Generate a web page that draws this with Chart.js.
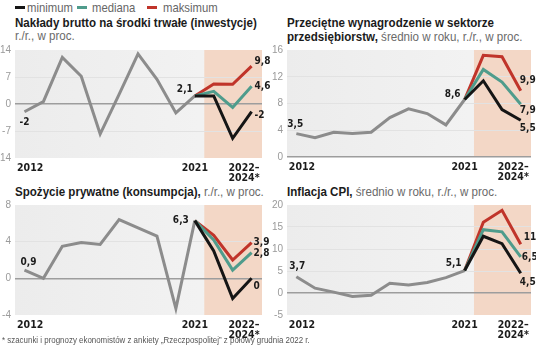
<!DOCTYPE html>
<html>
<head>
<meta charset="utf-8">
<script src="https://cdn.jsdelivr.net/npm/chart.js@4"></script>
<style>
  body { margin: 0; background: #fff; }
  #wrap { position: relative; width: 536px; height: 347px; overflow: hidden; font-family: "Liberation Sans", Arial, sans-serif; }
  .box { position: absolute; }
  .cond { transform: scaleX(0.89); transform-origin: 0 0; }
  .ttl { position: absolute; font-weight: bold; font-size: 13px; line-height: 14px; color: #1b1b1b; white-space: nowrap; }
  .ttl span, .sub { font-weight: normal; color: #6a6a6a; }
  .sub { position: absolute; font-size: 13px; line-height: 14px; white-space: nowrap; }
  .lg { position: absolute; top: 1px; font-size: 13px; line-height: 13px; color: #666; white-space: nowrap; transform: scaleX(0.87); transform-origin: 0 0; }
  .mk { position: absolute; top: 6px; width: 10px; height: 3px; }
  #note { position: absolute; left: 2px; top: 335px; font-size: 9px; color: #555; white-space: nowrap; transform: scaleX(0.88); transform-origin: 0 0; }
</style>
</head>
<body>
<div id="wrap">
  <div class="mk" style="left:15px;background:#151515"></div>
  <div class="lg" style="left:27px">minimum</div>
  <div class="mk" style="left:77px;background:#4f9c8c"></div>
  <div class="lg" style="left:92px">mediana</div>
  <div class="mk" style="left:147px;background:#c0342a"></div>
  <div class="lg" style="left:163px">maksimum</div>

  <div class="ttl cond" style="left:15px;top:16px">Nakłady brutto na środki trwałe (inwestycje)</div>
  <div class="sub cond" style="left:15px;top:29px">r./r., w proc.</div>
  <div class="ttl cond" style="left:287px;top:16px">Przeciętne wynagrodzenie w sektorze<br>przedsiębiorstw,<span> średnio w roku, r./r., w proc.</span></div>
  <div class="ttl cond" style="left:15px;top:185px">Spożycie prywatne (konsumpcja),<span> r./r., w proc.</span></div>
  <div class="ttl cond" style="left:287px;top:185px">Inflacja CPI,<span> średnio w roku, r./r., w proc.</span></div>

  <div class="box" style="left:0;top:40px"><canvas id="c1" width="274" height="145"></canvas></div>
  <div class="box" style="left:270px;top:40px"><canvas id="c2" width="266" height="145"></canvas></div>
  <div class="box" style="left:0;top:195px"><canvas id="c3" width="274" height="145"></canvas></div>
  <div class="box" style="left:270px;top:195px"><canvas id="c4" width="266" height="145"></canvas></div>

  <div id="note">* szacunki i prognozy ekonomistów z ankiety „Rzeczpospolitej” z połowy grudnia 2022 r.</div>
</div>

<script>
// lata 2012-2021 + prognozy 2022-2024
const years = ['2012','2013','2014','2015','2016','2017','2018','2019','2020','2021','2022','2023','2024'];
const xTickLabels = ['2012', '2021', ['2022–', '2024*']];

// inwestycje
const invHist = [-2, 0.6, 12.1, 7.2, -7.8, 2.5, 13, 6.4, -2.3, 2.1];
const invMin = [2.1, 2.1, -8.9, -2];
const invMed = [2.1, 3.3, -0.9, 4.6];
const invMax = [2.1, 5.2, 5.1, 9.8];
const invYTicks = [-14, -7, 0, 7, 14];
const invLabels = ['-2', '2,1', '-2', '4,6', '9,8'];

// wynagrodzenia
const wageHist = [3.5, 2.9, 3.7, 3.5, 3.7, 5.9, 7.2, 6.5, 4.8, 8.6];
const wageMin = [8.6, 11.4, 7.1, 5.5];
const wageMed = [8.6, 13.1, 11.2, 7.9];
const wageMax = [8.6, 15.2, 15.0, 9.9];
const wageYTicks = [0, 4, 8, 12, 16];
const wageLabels = ['3,5', '8,6', '5,5', '7,9', '9,9'];

// konsumpcja
const consHist = [0.9, 0, 3.5, 3.9, 3.7, 6.4, 5.5, 4.6, -3.3, 6.3];
const consMin = [6.3, 3.0, -2.2, 0];
const consMed = [6.3, 4.2, 0.9, 2.8];
const consMax = [6.3, 4.7, 2.0, 3.9];
const consYTicks = [-4, 0, 4, 8];
const consLabels = ['0,9', '6,3', '0', '2,8', '3,9'];

// inflacja CPI
const cpiHist = [3.7, 1.1, 0.2, -0.8, -0.5, 2.2, 1.8, 2.4, 3.5, 5.1];
const cpiMin = [5.1, 12.9, 11.2, 4.5];
const cpiMed = [5.1, 14.4, 13.9, 8.2];
const cpiMax = [5.1, 16.1, 18.8, 11.1];
const cpiYTicks = [-5, 0, 5, 10, 15, 20];
const cpiLabels = ['3,7', '5,1', '4,5', '6,5', '11'];

const LABEL_FONT = 'bold 10px "DejaVu Sans Condensed", "DejaVu Sans", sans-serif';

// tlo wykresu + pole prognozy
const bgPlugin = {
  id: 'bg',
  beforeDraw(chart) {
    const { ctx, chartArea: a, scales: { x } } = chart;
    ctx.save();
    const g = ctx.createLinearGradient(a.left, 0, a.right, 0);
    g.addColorStop(0, '#ececec');
    g.addColorStop(1, '#f4f4f4');
    ctx.fillStyle = g;
    ctx.fillRect(a.left, a.top, a.width, a.height);
    const sx = x.getPixelForValue(9.5);
    ctx.fillStyle = '#f3d7c6';
    ctx.fillRect(sx, a.top, a.right - sx, a.height);
    ctx.restore();
  }
};

// podpisy wartosci przy punktach
const valueLabels = {
  id: 'valueLabels',
  afterDatasetsDraw(chart, args, opts) {
    const ctx = chart.ctx;
    ctx.save();
    ctx.font = LABEL_FONT;
    ctx.fillStyle = '#1b1b1b';
    ctx.textBaseline = 'middle';
    opts.items.forEach(it => {
      const pt = chart.getDatasetMeta(it.ds).data[it.i];
      ctx.textAlign = it.align || 'left';
      ctx.fillText(it.text, pt.x + it.dx, pt.y + it.dy);
    });
    ctx.restore();
  }
};

function pts(arr, start) {
  return arr.map((v, i) => ({ x: start + i, y: v }));
}

function makeChart(id, hist, mn, md, mx, yTicks, texts, offs, box) {
  const line = (data, color) => ({
    data, borderColor: color, borderWidth: 3, pointRadius: 0, tension: 0, fill: false
  });
  const items = texts.map((t, k) => Object.assign({ text: t }, offs[k]));
  return new Chart(document.getElementById(id), {
    type: 'line',
    data: {
      datasets: [
        line(pts(mn, 9), '#151515'),
        line(pts(md, 9), '#4f9c8c'),
        line(pts(mx, 9), '#c0342a'),
        line(pts(hist, 0), '#8c8c8c')
      ]
    },
    plugins: [bgPlugin, valueLabels],
    options: {
      responsive: false,
      animation: false,
      layout: { padding: { top: 7, right: box.pr, left: 0, bottom: 0 } },
      plugins: {
        legend: { display: false },
        tooltip: { enabled: false },
        valueLabels: { items }
      },
      scales: {
        x: {
          type: 'linear', min: -0.5, max: 12.55,
          grid: { display: false },
          border: { display: false },
          afterBuildTicks: s => { s.ticks = [0.3, 9, 11.6].map(v => ({ value: v })); },
          afterFit: s => { s.height = box.xh; },
          ticks: {
            autoSkip: false, maxRotation: 0, padding: -3, color: '#1b1b1b',
            font: { family: '"DejaVu Sans Condensed", "DejaVu Sans"', weight: 'bold', size: 10.5, lineHeight: 1 },
            callback: (v, i) => xTickLabels[i]
          }
        },
        y: {
          min: yTicks[0], max: yTicks[yTicks.length - 1],
          afterBuildTicks: s => { s.ticks = yTicks.map(v => ({ value: v })); },
          afterFit: s => { s.width = box.yw; },
          border: { display: false },
          grid: {
            drawTicks: false,
            color: c => {
              const v = c.tick.value;
              if (v === 0) return '#9d9d9d';
              if (v === yTicks[0] || v === yTicks[yTicks.length - 1]) return 'rgba(0,0,0,0)';
              return '#e2e2e2';
            },
            lineWidth: c => (c.tick.value === 0 ? 1.5 : 1)
          },
          ticks: {
            padding: 4, color: '#9a9a9a',
            font: { family: '"Liberation Sans"', size: 10 }
          }
        }
      }
    }
  });
}

// kolejnosc podpisow: poczatek, 2021, min, mediana, max (ds: 0 min, 1 med, 2 max, 3 hist)
makeChart('c1', invHist, invMin, invMed, invMax, invYTicks, invLabels, [
  { ds: 3, i: 0, dx: -5, dy: 11 },
  { ds: 3, i: 9, dx: -2, dy: -6, align: 'right' },
  { ds: 0, i: 3, dx: 3, dy: 4 },
  { ds: 1, i: 3, dx: 3, dy: 0 },
  { ds: 2, i: 3, dx: 3, dy: -5 }
], { pr: 12, yw: 15, xh: 27 });

makeChart('c2', wageHist, wageMin, wageMed, wageMax, wageYTicks, wageLabels, [
  { ds: 3, i: 0, dx: -9, dy: -9 },
  { ds: 3, i: 9, dx: -4, dy: -5, align: 'right' },
  { ds: 0, i: 3, dx: -1, dy: 8 },
  { ds: 1, i: 3, dx: -1, dy: 6 },
  { ds: 2, i: 3, dx: -1, dy: -10 }
], { pr: 5, yw: 17, xh: 28 });

makeChart('c3', consHist, consMin, consMed, consMax, consYTicks, consLabels, [
  { ds: 3, i: 0, dx: -4, dy: -8 },
  { ds: 3, i: 9, dx: -6, dy: 0, align: 'right' },
  { ds: 0, i: 3, dx: 2, dy: 8 },
  { ds: 1, i: 3, dx: 2, dy: 1 },
  { ds: 2, i: 3, dx: 2, dy: 0 }
], { pr: 12, yw: 15, xh: 25 });

makeChart('c4', cpiHist, cpiMin, cpiMed, cpiMax, cpiYTicks, cpiLabels, [
  { ds: 3, i: 0, dx: -7, dy: -10 },
  { ds: 3, i: 9, dx: -3, dy: -7, align: 'right' },
  { ds: 0, i: 3, dx: -1, dy: 9 },
  { ds: 1, i: 3, dx: 1, dy: 0 },
  { ds: 2, i: 3, dx: 3, dy: -7 }
], { pr: 5, yw: 17, xh: 25 });
</script>
</body>
</html>
